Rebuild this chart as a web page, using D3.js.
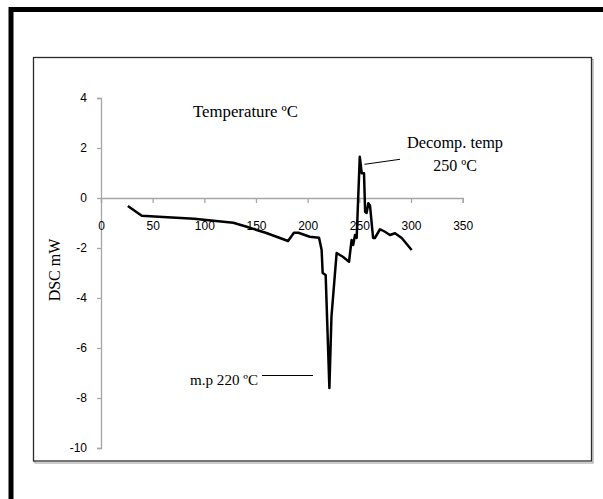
<!DOCTYPE html>
<html><head><meta charset="utf-8">
<script src="https://cdn.jsdelivr.net/npm/d3@7"></script>
<style>body{margin:0;background:#fff;}svg{display:block;}</style>
</head><body>
<script>
const temps = [26, 37, 39.5, 60, 90, 128, 141, 160, 181, 186.7, 191, 202, 211, 213.5, 214.5, 217.4, 221, 223, 228, 234, 240, 242.5, 244, 245.8, 247.4, 250.4, 252.3, 254.5, 255.6, 257, 258.7, 260.3, 263.3, 265, 270, 274.8, 279.6, 284.5, 291, 300.6];
const dsc   = [-0.32, -0.64, -0.71, -0.76, -0.83, -0.99, -1.15, -1.4, -1.72, -1.39, -1.39, -1.55, -1.59, -2.08, -3.0, -3.08, -7.6, -4.75, -2.2, -2.35, -2.55, -1.68, -1.88, -1.48, -1.6, 1.65, 0.99, 0.99, -0.55, -0.6, -0.21, -0.3, -1.6, -1.6, -1.25, -1.35, -1.48, -1.41, -1.6, -2.08];
const xTicks = [0, 50, 100, 150, 200, 250, 300, 350];
const yTicks = [4, 2, 0, -2, -4, -6, -8, -10];
const yTitle = "DSC mW";
const xTitle = "Temperature ºC";
const notes = [
  {lines: ["Decomp. temp", "250 ºC"], t: 253, v: 1.35},
  {lines: ["m.p 220 ºC"], t: 220, v: -7.1}
];

const W = 603, H = 499;
const svg = d3.select("body").append("svg").attr("width", W).attr("height", H);
svg.append("rect").attr("width", W).attr("height", H).attr("fill", "#fff");
// outer frame
svg.append("rect").attr("x", 11).attr("y", 9.5).attr("width", 620).attr("height", 520)
  .attr("fill", "none").attr("stroke", "#000").attr("stroke-width", 5);
// chart area frame
svg.append("rect").attr("x", 34).attr("y", 58.5).attr("width", 558).attr("height", 403.5)
  .attr("fill", "none").attr("stroke", "#9a9a9a").attr("stroke-width", 1).attr("transform", "translate(1,1)");
svg.append("rect").attr("x", 33.5).attr("y", 57.5).attr("width", 558).attr("height", 403.5)
  .attr("fill", "#fff").attr("stroke", "#2b2b2b").attr("stroke-width", 1.3);

const x = d3.scaleLinear().domain([0, 350]).range([101, 462.7]);
const y = d3.scaleLinear().domain([-10, 4]).range([448, 98]);

const tickFont = "Liberation Sans, Arial, sans-serif";
const fmt = d => String(d);
const ya = svg.append("g").attr("transform", `translate(${x(0)},0)`)
  .call(d3.axisLeft(y).tickValues(yTicks).tickSize(4).tickPadding(10).tickFormat(fmt));
const xa = svg.append("g").attr("transform", `translate(0,${y(0)})`)
  .call(d3.axisBottom(x).tickValues(xTicks).tickSize(5).tickPadding(18).tickFormat(fmt));
[ya, xa].forEach(g => {
  g.select(".domain").attr("stroke", "#a6a6a6").attr("stroke-width", 1.3);
  g.selectAll(".tick line").attr("stroke", "#a6a6a6").attr("stroke-width", 1.3);
  g.selectAll(".tick text").attr("fill", "#000").attr("font-family", tickFont).attr("font-size", 12);
});

const line = d3.line().x((d, i) => x(temps[i])).y(d => y(d));
svg.append("path").datum(dsc).attr("d", line)
  .attr("fill", "none").attr("stroke", "#000").attr("stroke-width", 2.5).attr("stroke-linejoin", "round");

const serif = "Liberation Serif, Times New Roman, serif";
svg.append("text").attr("x", 193).attr("y", 117).attr("font-family", serif).attr("font-size", 16)
  .attr("textLength", 105).attr("lengthAdjust", "spacingAndGlyphs").text(xTitle);
svg.append("text").attr("transform", `translate(60,${270}) rotate(-90)`).attr("text-anchor", "middle")
  .attr("font-family", serif).attr("font-size", 16).text(yTitle);

// Decomp annotation
svg.append("text").attr("x", 455).attr("y", 148).attr("text-anchor", "middle").attr("font-family", serif)
  .attr("font-size", 16).attr("textLength", 96).attr("lengthAdjust", "spacingAndGlyphs").text(notes[0].lines[0]);
svg.append("text").attr("x", 455).attr("y", 171).attr("text-anchor", "middle").attr("font-family", serif)
  .attr("font-size", 16).text(notes[0].lines[1]);
svg.append("line").attr("x1", x(notes[0].t) + 2).attr("y1", 164.3).attr("x2", 400).attr("y2", 159.3)
  .attr("stroke", "#000").attr("stroke-width", 1);
// m.p annotation
svg.append("text").attr("x", 190).attr("y", 385).attr("font-family", serif).attr("font-size", 15)
  .attr("textLength", 68).attr("lengthAdjust", "spacingAndGlyphs").text(notes[1].lines[0]);
svg.append("line").attr("x1", 262).attr("y1", 375.5).attr("x2", 313).attr("y2", 375.5)
  .attr("stroke", "#000").attr("stroke-width", 1.2);
</script>
</body></html>
